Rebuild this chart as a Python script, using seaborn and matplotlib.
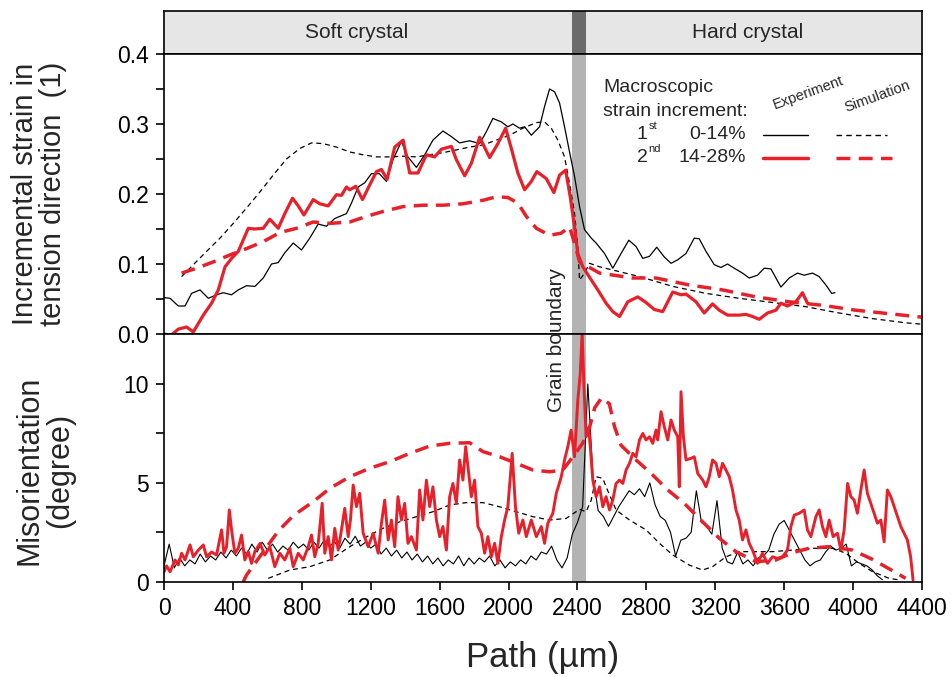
import numpy as np
import matplotlib
matplotlib.use('Agg')
import matplotlib.pyplot as plt
import seaborn as sns
from matplotlib.lines import Line2D

sns.set_style('ticks')
plt.rcParams['font.family'] = ['Liberation Sans', 'DejaVu Sans']

RED = '#e8202a'

# ---- top panel: incremental strain ----
exp1_x = [0, 35, 83, 122, 160, 209, 257, 305, 344, 392, 431, 479, 528, 576, 624, 663, 701, 750, 798, 846,
          895, 943, 991, 1059, 1088, 1127, 1165, 1204, 1250, 1291, 1329, 1378, 1416, 1465, 1513, 1561, 1619,
          1668, 1716, 1774, 1832, 1871, 1909, 1958, 1996, 2025, 2064, 2093, 2132, 2180, 2209, 2238, 2267,
          2296, 2325, 2354, 2383, 2412, 2441, 2480, 2508, 2557, 2605, 2653, 2698, 2740, 2779, 2818, 2860,
          2904, 2943, 2982, 3030, 3078, 3107, 3146, 3194, 3233, 3271, 3310, 3358, 3397, 3445, 3484, 3523,
          3581, 3629, 3677, 3716, 3764, 3803, 3842, 3876, 3895]
exp1_y = [0.052, 0.051, 0.040, 0.040, 0.058, 0.063, 0.051, 0.056, 0.059, 0.056, 0.063, 0.069, 0.068, 0.080,
          0.100, 0.102, 0.116, 0.130, 0.120, 0.137, 0.157, 0.154, 0.165, 0.172, 0.187, 0.210, 0.216, 0.229,
          0.229, 0.218, 0.249, 0.275, 0.253, 0.238, 0.256, 0.277, 0.290, 0.282, 0.273, 0.276, 0.272, 0.289,
          0.308, 0.303, 0.296, 0.300, 0.294, 0.296, 0.284, 0.296, 0.325, 0.350, 0.346, 0.330, 0.296, 0.260,
          0.225, 0.182, 0.149, 0.137, 0.130, 0.115, 0.094, 0.115, 0.134, 0.125, 0.108, 0.111, 0.124, 0.110,
          0.101, 0.106, 0.115, 0.137, 0.136, 0.118, 0.099, 0.095, 0.100, 0.094, 0.087, 0.080, 0.084, 0.094,
          0.093, 0.067, 0.080, 0.087, 0.084, 0.087, 0.082, 0.070, 0.058, 0.059]

sim1_x = [102, 170, 247, 325, 402, 479, 557, 634, 711, 788, 856, 924, 1001, 1078, 1156, 1233, 1310, 1388,
          1465, 1542, 1619, 1697, 1774, 1851, 1929, 2006, 2083, 2161, 2209, 2248, 2286, 2325, 2354, 2383,
          2402, 2412, 2441, 2470, 2528, 2760, 2953, 3146, 3339, 3532, 3726, 3919, 4112, 4305, 4400]
sim1_y = [0.082, 0.099, 0.118, 0.137, 0.158, 0.180, 0.203, 0.227, 0.250, 0.265, 0.273, 0.272, 0.267, 0.260,
          0.256, 0.253, 0.253, 0.254, 0.253, 0.256, 0.259, 0.263, 0.267, 0.270, 0.277, 0.284, 0.294, 0.302,
          0.303, 0.294, 0.277, 0.253, 0.215, 0.172, 0.125, 0.077, 0.087, 0.101, 0.096, 0.082, 0.068, 0.058,
          0.051, 0.045, 0.039, 0.030, 0.022, 0.016, 0.014]

exp2_x = [0, 40, 83, 131, 170, 228, 276, 315, 354, 392, 431, 489, 528, 576, 614, 663, 701, 746, 779, 812,
          866, 904, 953, 1001, 1030, 1059, 1078, 1113, 1152, 1190, 1233, 1262, 1295, 1339, 1388, 1426, 1474,
          1523, 1571, 1610, 1668, 1697, 1745, 1784, 1832, 1890, 1938, 1983, 2016, 2054, 2093, 2132, 2164,
          2219, 2263, 2296, 2331, 2358, 2383, 2402, 2431, 2470, 2518, 2566, 2605, 2644, 2692, 2750, 2798,
          2846, 2895, 2953, 3001, 3030, 3088, 3136, 3184, 3223, 3271, 3339, 3378, 3416, 3455, 3503, 3552,
          3581, 3619, 3668, 3706, 3735]
exp2_y = [0.000, -0.002, 0.007, 0.010, 0.003, 0.027, 0.044, 0.063, 0.096, 0.108, 0.118, 0.151, 0.150,
          0.151, 0.164, 0.151, 0.172, 0.194, 0.183, 0.170, 0.192, 0.186, 0.183, 0.199, 0.198, 0.210, 0.206,
          0.211, 0.192, 0.211, 0.232, 0.235, 0.221, 0.267, 0.277, 0.230, 0.230, 0.256, 0.253, 0.264, 0.268,
          0.249, 0.226, 0.244, 0.281, 0.252, 0.272, 0.294, 0.265, 0.230, 0.206, 0.218, 0.232, 0.222, 0.202,
          0.227, 0.234, 0.196, 0.153, 0.115, 0.096, 0.081, 0.063, 0.044, 0.032, 0.025, 0.046, 0.053, 0.045,
          0.035, 0.032, 0.060, 0.056, 0.057, 0.046, 0.030, 0.043, 0.034, 0.027, 0.027, 0.028, 0.025, 0.021,
          0.030, 0.034, 0.044, 0.040, 0.046, 0.059, 0.044]

sim2_x = [102, 189, 286, 383, 479, 576, 673, 769, 866, 962, 1078, 1175, 1271, 1388, 1503, 1619, 1735,
          1851, 1929, 1996, 2054, 2103, 2161, 2238, 2305, 2354, 2389, 2412, 2528, 2721, 2856, 3049, 3242,
          3436, 3629, 3822, 4015, 4209, 4400]
sim2_y = [0.087, 0.094, 0.103, 0.113, 0.122, 0.132, 0.145, 0.151, 0.160, 0.158, 0.160, 0.168, 0.175,
          0.182, 0.184, 0.184, 0.186, 0.191, 0.196, 0.195, 0.187, 0.168, 0.151, 0.141, 0.144, 0.153, 0.125,
          0.103, 0.087, 0.080, 0.080, 0.070, 0.063, 0.053, 0.046, 0.041, 0.034, 0.029, 0.024]

# ---- bottom panel: misorientation ----
mis_exp1_x = np.arange(0, 4200, 30)
mis_exp1_y = [0.8, 1.9, 0.7, 1.2, 0.8, 1.1, 0.9, 1.4, 1.0, 1.3,
              1.1, 1.5, 1.2, 1.6, 1.3, 1.7, 1.4, 1.9, 1.5, 2.0,
              1.6, 1.9, 1.5, 1.8, 1.6, 2.0, 1.7, 1.9, 1.6, 2.0,
              1.7, 2.1, 1.8, 2.0, 1.7, 2.2, 1.9, 2.3, 1.8, 2.0,
              1.7, 1.9, 1.4, 1.7, 1.3, 1.6, 1.2, 1.5, 1.1, 1.4,
              1.0, 1.3, 0.9, 1.2, 0.8, 1.1, 0.9, 1.3, 0.8, 1.2,
              0.9, 1.2, 1.0, 1.3, 0.8, 1.1, 0.7, 1.0, 0.8, 1.1,
              0.9, 1.3, 1.1, 1.5, 1.4, 1.8, 1.1, 0.7, 1.2, 2.4,
              3.0, 3.8, 10.0, 5.3, 3.6, 3.3, 2.8, 3.3, 3.8, 4.2,
              4.6, 4.4, 4.7, 4.3, 5.0, 3.9, 3.3, 3.1, 2.5, 1.3,
              2.1, 2.2, 2.5, 4.6, 3.0, 2.8, 2.4, 4.1, 1.7, 1.0,
              0.9, 1.5, 0.9, 1.1, 0.8, 1.2, 1.3, 1.6, 2.4, 2.9,
              3.1, 2.6, 2.1, 1.6, 1.1, 0.8, 1.0, 1.1, 1.5, 1.8,
              1.6, 1.7, 1.9, 0.8, 1.0, 0.9, 0.8, 0.6, 0.3, 0.1]

mis_sim1_x = [605, 730, 846, 962, 1078, 1194, 1271, 1368, 1465, 1561, 1658, 1755, 1851, 1948, 2045, 2141,
              2238, 2334, 2412, 2450, 2480, 2508, 2547, 2566, 2624, 2702, 2798, 2876, 2953, 3049, 3126,
              3184, 3262, 3339, 3436, 3532, 3648, 3764, 3880, 3958, 4035, 4112, 4209, 4276]
mis_sim1_y = [0.17, 0.59, 0.76, 1.10, 1.77, 2.36, 2.70, 3.03, 3.29, 3.54, 3.88, 4.00, 4.00, 3.79, 3.54,
              3.29, 3.12, 3.20, 3.66, 3.54, 4.13, 5.31, 5.23, 4.80, 3.63, 3.12, 2.62, 1.94, 1.35, 0.84,
              0.59, 0.76, 1.26, 1.52, 1.52, 1.52, 1.60, 1.69, 1.69, 1.44, 0.93, 0.51, 0.17, 0.08]

mis_exp2_x = [0, 15, 35, 64, 83, 102, 122, 151, 170, 199, 228, 247, 276, 305, 334, 348, 363, 379, 392, 411,
              431, 450, 469, 489, 508, 527, 557, 585, 614, 643, 672, 701, 730, 750, 779, 808, 837, 856, 875,
              895, 918, 933, 953, 972, 991, 1011, 1030, 1049, 1069, 1082, 1098, 1117, 1136, 1156, 1185, 1214,
              1243, 1262, 1281, 1301, 1320, 1339, 1358, 1378, 1397, 1416, 1436, 1465, 1484, 1503, 1523, 1542,
              1561, 1581, 1600, 1619, 1639, 1658, 1677, 1697, 1716, 1735, 1751, 1764, 1784, 1803, 1822, 1842,
              1861, 1880, 1900, 1919, 1938, 1958, 1977, 1996, 2021, 2040, 2059, 2083, 2103, 2132, 2161, 2190,
              2209, 2228, 2257, 2277, 2306, 2325, 2344, 2363, 2383, 2402, 2416, 2427, 2438, 2450, 2465, 2479,
              2489, 2508, 2528, 2547, 2566, 2586, 2605, 2624, 2644, 2663, 2682, 2702, 2721, 2740, 2760, 2779,
              2798, 2818, 2837, 2856, 2866, 2885, 2904, 2924, 2943, 2962, 2982, 2991, 3001, 3015, 3030, 3059,
              3078, 3098, 3127, 3146, 3165, 3184, 3204, 3223, 3242, 3262, 3281, 3300, 3320, 3339, 3358, 3378,
              3397, 3416, 3445, 3474, 3503, 3532, 3561, 3590, 3619, 3639, 3658, 3687, 3716, 3735, 3755, 3784,
              3803, 3822, 3842, 3861, 3884, 3909, 3929, 3948, 3968, 3987, 4006, 4025, 4045, 4064, 4083, 4103,
              4122, 4141, 4161, 4180, 4199, 4219, 4238, 4257, 4277, 4296, 4315, 4334, 4348]
mis_exp2_y = [0.50, 0.80, 0.50, 1.10, 0.85, 1.44, 1.10, 1.86, 1.26, 1.60, 1.86, 1.26, 1.50, 1.35, 2.62,
              1.44, 1.77, 3.63, 2.62, 1.44, 1.69, 2.36, 1.10, 1.52, 0.93, 1.52, 1.94, 1.35, 1.77, 0.76,
              1.44, 1.10, 1.69, 0.76, 1.44, 1.10, 1.77, 2.36, 1.26, 1.94, 3.97, 1.44, 2.28, 1.10, 2.70,
              1.60, 2.62, 3.71, 2.28, 3.12, 4.89, 3.80, 4.47, 2.45, 1.77, 2.45, 1.44, 2.95, 4.13, 2.11,
              3.12, 1.77, 4.30, 3.12, 3.96, 1.94, 2.28, 1.60, 4.64, 3.12, 5.14, 3.80, 4.80, 3.12, 2.28,
              2.79, 1.60, 4.30, 4.97, 3.96, 6.16, 5.14, 6.83, 5.82, 4.30, 5.14, 2.79, 2.45, 1.44, 2.28,
              1.26, 1.94, 0.93, 2.28, 3.12, 3.80, 6.49, 3.80, 2.45, 3.12, 2.28, 3.12, 2.28, 2.79, 1.94,
              2.96, 3.46, 4.47, 5.31, 6.16, 6.83, 7.67, 6.32, 9.19, 10.5, 12.6, 9.80, 7.33, 7.80, 6.32,
              5.14, 4.30, 4.80, 3.79, 4.30, 3.63, 4.13, 4.97, 5.14, 4.97, 5.65, 5.99, 6.49, 6.32, 7.17,
              7.50, 7.17, 7.33, 7.00, 7.67, 7.17, 8.60, 7.84, 7.17, 8.18, 7.67, 7.33, 4.80, 9.61, 7.33,
              6.16, 6.24, 6.32, 5.48, 5.14, 4.80, 5.31, 6.16, 5.99, 5.31, 5.99, 5.65, 5.31, 4.64, 3.63,
              3.12, 2.11, 2.62, 1.94, 1.60, 0.93, 1.44, 0.93, 1.26, 1.18, 1.26, 1.60, 2.79, 3.37, 3.46,
              3.63, 2.62, 2.28, 3.29, 3.63, 2.79, 2.28, 3.12, 2.28, 2.45, 1.60, 2.62, 4.97, 4.30, 4.13,
              3.46, 4.64, 5.65, 4.47, 3.96, 3.46, 2.96, 3.12, 2.02, 4.64, 4.30, 3.80, 3.29, 2.79, 2.45,
              2.11, 1.26, 0.08]

mis_sim2_x = [460, 479, 663, 750, 866, 962, 1078, 1194, 1310, 1426, 1542, 1658, 1774, 1851, 1948, 2045,
              2141, 2238, 2315, 2380, 2430, 2470, 2500, 2540, 2585, 2615, 2653, 2740, 2827, 2924, 3020,
              3126, 3223, 3320, 3436, 3552, 3648, 3745, 3861, 3996, 4112, 4228, 4305]
mis_sim2_y = [0.0, 0.34, 2.56, 3.34, 4.05, 4.72, 5.31, 5.74, 6.07, 6.49, 6.86, 7.00, 7.03, 6.58, 6.32,
              5.99, 5.65, 5.56, 5.65, 6.40, 7.00, 7.80, 8.80, 9.30, 9.00, 7.84, 6.90, 6.16, 5.48, 4.64,
              3.96, 3.03, 2.20, 1.52, 1.01, 1.10, 1.47, 1.69, 1.77, 1.60, 1.13, 0.56, 0.17]

gb_left, gb_right = 2370, 2450
x_ticks = list(range(0, 4401, 400))

fig = plt.figure(figsize=(9.52, 6.77), dpi=100)
ax_head = fig.add_axes([0.1723, 0.92024, 0.7962, 0.06352])
ax1 = fig.add_axes([0.1723, 0.50665, 0.7962, 0.41359])
ax2 = fig.add_axes([0.1723, 0.14077, 0.7962, 0.36588])

# header strip
ax_head.set_facecolor('#e6e6e6')
ax_head.set_xlim(0, 4400)
ax_head.set_ylim(0, 1)
ax_head.axvspan(gb_left, gb_right, color='#6b6b6b', lw=0)
ax_head.set_xticks([])
ax_head.set_yticks([])
ax_head.text(1119, 0.5, 'Soft crystal', ha='center', va='center', fontsize=15)
ax_head.text(3385, 0.5, 'Hard crystal', ha='center', va='center', fontsize=15)

# top panel
ax1.axvspan(gb_left, gb_right, color='#b3b3b3', lw=0, zorder=0)
sns.lineplot(x=exp1_x, y=exp1_y, ax=ax1, color='black', lw=0.9)
sns.lineplot(x=sim1_x, y=sim1_y, ax=ax1, color='black', lw=0.9, linestyle=(0, (4, 3)))
sns.lineplot(x=exp2_x, y=exp2_y, ax=ax1, color=RED, lw=2.3)
sns.lineplot(x=sim2_x, y=sim2_y, ax=ax1, color=RED, lw=2.5, linestyle=(0, (4, 2.4)))
ax1.set_xlim(0, 4400)
ax1.set_ylim(0, 0.4)
ax1.set_yticks([0.0, 0.1, 0.2, 0.3, 0.4])
ax1.set_yticklabels(['0.0', '0.1', '0.2', '0.3', '0.4'])
ax1.set_yticks(np.arange(0.05, 0.4, 0.1), minor=True)
ax1.set_xticks([])
ax1.set_ylabel('Incremental strain in\ntension direction  (1)', fontsize=21, linespacing=1.0)
ax1.yaxis.set_label_coords(-0.128, 0.5)

# bottom panel
ax2.axvspan(gb_left, gb_right, color='#b3b3b3', lw=0, zorder=0)
sns.lineplot(x=mis_exp1_x, y=mis_exp1_y, ax=ax2, color='black', lw=0.8)
sns.lineplot(x=mis_sim1_x, y=mis_sim1_y, ax=ax2, color='black', lw=0.9, linestyle=(0, (4, 3)))
sns.lineplot(x=mis_exp2_x, y=mis_exp2_y, ax=ax2, color=RED, lw=2.1)
sns.lineplot(x=mis_sim2_x, y=mis_sim2_y, ax=ax2, color=RED, lw=2.5, linestyle=(0, (4, 2.4)))
ax2.set_xlim(0, 4400)
ax2.set_ylim(0, 12.53)
ax2.set_yticks([0, 5, 10])
ax2.set_yticks([2.5, 7.5], minor=True)
ax2.set_xticks(x_ticks)
ax2.set_xlabel('Path (µm)', fontsize=25, labelpad=15)
ax2.set_ylabel('Misorientation\n(degree)', fontsize=22, linespacing=1.05)
ax2.yaxis.set_label_coords(-0.117, 0.45)

for ax in (ax_head, ax1, ax2):
    for s in ax.spines.values():
        s.set_visible(True)
        s.set_linewidth(1.2)
        s.set_color('black')
for ax in (ax1, ax2):
    ax.tick_params(axis='both', which='both', direction='out', length=6, width=1.2,
                   labelsize=16.5, pad=5, colors='black')

# legend block
lt = ax1.transAxes
ax1.text(0.579, 0.879, 'Macroscopic', transform=lt, fontsize=14, va='center', ha='left')
ax1.text(0.579, 0.796, 'strain increment:', transform=lt, fontsize=14, va='center', ha='left')
ax1.text(0.850, 0.860, 'Experiment', transform=lt, fontsize=10.5, rotation=20, ha='center', va='center')
ax1.text(0.941, 0.850, 'Simulation', transform=lt, fontsize=10.5, rotation=20, ha='center', va='center')
ax1.text(0.631, 0.714, '1', transform=lt, fontsize=14, ha='center', va='center')
ax1.text(0.639, 0.742, 'st', transform=lt, fontsize=8, ha='left', va='center')
ax1.text(0.631, 0.632, '2', transform=lt, fontsize=14, ha='center', va='center')
ax1.text(0.639, 0.660, 'nd', transform=lt, fontsize=8, ha='left', va='center')
ax1.text(0.768, 0.714, '0-14%', transform=lt, fontsize=14, ha='right', va='center')
ax1.text(0.768, 0.632, '14-28%', transform=lt, fontsize=14, ha='right', va='center')
ax1.add_line(Line2D([0.790, 0.850], [0.711, 0.711], transform=lt, color='black', lw=1.0))
ax1.add_line(Line2D([0.887, 0.954], [0.711, 0.711], transform=lt, color='black', lw=1.0,
                    linestyle=(0, (4, 3))))
ax1.add_line(Line2D([0.790, 0.850], [0.629, 0.629], transform=lt, color=RED, lw=2.5))
ax1.add_line(Line2D([0.887, 0.960], [0.629, 0.629], transform=lt, color=RED, lw=2.5,
                    linestyle=(0, (4, 2.4))))

fig.text(0.585, 0.498, 'Grain boundary', rotation=90, ha='center', va='center', fontsize=15)

fig.savefig('out.png', dpi=100)
